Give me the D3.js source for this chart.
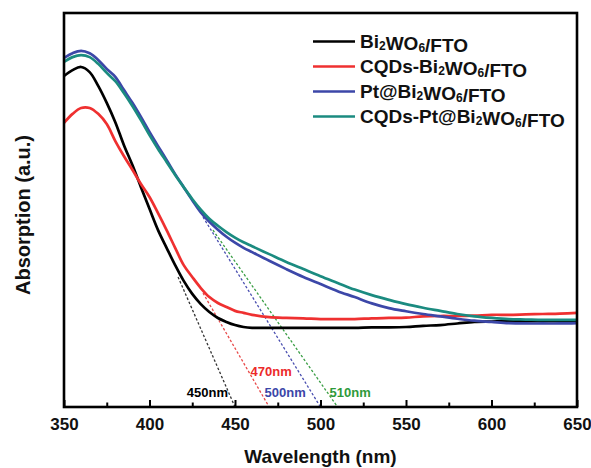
<!DOCTYPE html>
<html>
<head>
<meta charset="utf-8">
<script src="https://cdn.jsdelivr.net/npm/d3@7"></script>
<style>
  html, body { margin: 0; padding: 0; background: #fff; }
  svg { display: block; }
  text { font-family: "Liberation Sans", Arial, sans-serif; font-weight: bold; }
</style>
</head>
<body>
<svg id="chart" width="591" height="468"></svg>
<script>
// ---- data ----
const wavelengths = [350,355,360,365,370,375,380,385,390,395,400,405,410,415,420,425,430,435,440,445,450,455,460,
  470,480,490,500,510,520,530,540,550,560,570,580,590,600,610,620,630,640,650];

const bi2wo6 = [0.840,0.855,0.863,0.850,0.815,0.772,0.723,0.665,0.614,0.558,0.503,0.449,0.404,0.360,0.320,0.287,0.261,0.241,0.226,0.216,0.208,0.203,0.201,
  0.201,0.201,0.201,0.201,0.201,0.201,0.202,0.202,0.203,0.206,0.208,0.212,0.216,0.217,0.218,0.218,0.218,0.218,0.218];

const cqdsBi2wo6 = [0.721,0.744,0.759,0.759,0.744,0.718,0.675,0.637,0.602,0.566,0.533,0.492,0.449,0.404,0.360,0.330,0.302,0.279,0.264,0.254,0.244,0.239,0.234,
  0.228,0.226,0.225,0.223,0.223,0.223,0.225,0.226,0.227,0.230,0.231,0.231,0.232,0.234,0.234,0.235,0.236,0.237,0.239];

const ptBi2wo6 = [0.886,0.898,0.904,0.898,0.881,0.858,0.838,0.805,0.772,0.736,0.698,0.662,0.627,0.591,0.558,0.525,0.494,0.470,0.450,0.432,0.417,0.404,0.393,
  0.371,0.350,0.330,0.312,0.294,0.279,0.263,0.251,0.243,0.236,0.230,0.224,0.219,0.216,0.213,0.212,0.212,0.212,0.213];

const cqdsPtBi2wo6 = [0.876,0.888,0.893,0.888,0.871,0.848,0.827,0.797,0.764,0.728,0.690,0.655,0.622,0.589,0.558,0.528,0.501,0.478,0.460,0.444,0.430,0.418,0.408,
  0.388,0.368,0.350,0.332,0.315,0.298,0.284,0.272,0.261,0.252,0.244,0.236,0.230,0.226,0.223,0.222,0.221,0.221,0.221];

const seriesNames = ["Bi2WO6/FTO", "CQDs-Bi2WO6/FTO", "Pt@Bi2WO6/FTO", "CQDs-Pt@Bi2WO6/FTO"];
const seriesColors = ["#000000", "#ef3030", "#3c47a8", "#1b8b80"];
const seriesValues = [bi2wo6, cqdsBi2wo6, ptBi2wo6, cqdsPtBi2wo6];

// tangent (band-edge) lines: start point on curve -> x-intercept
const tangentStartWl = [416.7, 431.3, 431.3, 437.1];
const tangentStartVal = [0.330, 0.289, 0.482, 0.449];
const tangentEdgeWl = [450, 470, 500, 510];
const tangentLabels = ["450nm", "470nm", "500nm", "510nm"];
const tangentColors = ["#333333", "#e84848", "#4a4fb0", "#3a9e45"];
const tangentLabelColors = ["#000000", "#ec2a2a", "#3b46a8", "#2e9a3a"];

const majorTicks = [350, 400, 450, 500, 550, 600, 650];
const minorTicks = [375, 425, 475, 525, 575, 625];

// ---- chart ----
const svg = d3.select("#chart");
const mLeft = 64, mRight = 577, mTop = 13, mBottom = 407;
const x = d3.scaleLinear().domain([350, 650]).range([mLeft, mRight]);
const y = d3.scaleLinear().domain([0, 1]).range([mBottom, mTop]);

// tangent dotted lines
tangentEdgeWl.forEach((edge, i) => {
  svg.append("line")
    .attr("x1", x(tangentStartWl[i])).attr("y1", y(tangentStartVal[i]))
    .attr("x2", x(edge)).attr("y2", y(0))
    .attr("stroke", tangentColors[i]).attr("stroke-width", 1.3)
    .attr("stroke-dasharray", "2.5,2");
});

// curves
const line = d3.line()
  .x((d, i) => x(wavelengths[i]))
  .y(d => y(d))
  .curve(d3.curveCatmullRom);

seriesValues.forEach((vals, i) => {
  svg.append("path")
    .attr("d", line(vals))
    .attr("fill", "none")
    .attr("stroke", seriesColors[i])
    .attr("stroke-width", 2.7)
    .attr("stroke-linejoin", "round");
});

// axis ticks
const gx = svg.append("g").attr("transform", `translate(0,${mBottom})`)
  .call(d3.axisBottom(x).tickValues(majorTicks).tickSize(-7).tickPadding(11).tickFormat(d3.format("d")));
gx.select(".domain").remove();
gx.selectAll(".tick line").attr("stroke", "#000").attr("stroke-width", 2);
gx.selectAll(".tick text").attr("font-size", 17).attr("fill", "#111")
  .style("font-family", '"Liberation Sans", Arial, sans-serif').style("font-weight", "bold");

const gxm = svg.append("g").attr("transform", `translate(0,${mBottom})`)
  .call(d3.axisBottom(x).tickValues(minorTicks).tickSize(-4.5).tickFormat(""));
gxm.select(".domain").remove();
gxm.selectAll(".tick line").attr("stroke", "#000").attr("stroke-width", 2);

// frame
svg.append("rect")
  .attr("x", mLeft).attr("y", mTop).attr("width", mRight - mLeft).attr("height", mBottom - mTop)
  .attr("fill", "none").attr("stroke", "#000").attr("stroke-width", 2.6);

// tangent labels
const labelPos = [
  {dx: -7, y: 397, anchor: "end"},
  {dx: 2, y: 376, anchor: "middle"},
  {dx: -56, y: 397, anchor: "start"},
  {dx: -8, y: 397, anchor: "start"}
];
tangentLabels.forEach((t, i) => {
  svg.append("text")
    .attr("x", x(tangentEdgeWl[i]) + labelPos[i].dx)
    .attr("y", labelPos[i].y)
    .attr("text-anchor", labelPos[i].anchor)
    .attr("font-size", 13)
    .attr("fill", tangentLabelColors[i])
    .text(t);
});

// axis titles
svg.append("text")
  .attr("x", (mLeft + mRight) / 2).attr("y", 463)
  .attr("text-anchor", "middle").attr("font-size", 19).attr("fill", "#111")
  .text("Wavelength (nm)");

svg.append("text")
  .attr("transform", "translate(30,215) rotate(-90)")
  .attr("text-anchor", "middle").attr("font-size", 20).attr("fill", "#111")
  .text("Absorption (a.u.)");

// legend
const legend = svg.append("g");
seriesNames.forEach((name, i) => {
  const cy = 41.5 + i * 25;
  legend.append("line")
    .attr("x1", 313).attr("x2", 355).attr("y1", cy).attr("y2", cy)
    .attr("stroke", seriesColors[i]).attr("stroke-width", 2.7);
  const txt = legend.append("text")
    .attr("x", 360).attr("y", cy + 6.5)
    .attr("font-size", 19).attr("fill", "#111");
  // render digits as subscripts
  const parts = name.split(/(\d)/);
  parts.forEach(p => {
    if (p === "") return;
    if (/^\d$/.test(p)) {
      txt.append("tspan").attr("font-size", 12).attr("dy", 2).text(p);
      txt.append("tspan").attr("dy", -2).text("");
    } else {
      txt.append("tspan").text(p);
    }
  });
});
</script>
</body>
</html>
